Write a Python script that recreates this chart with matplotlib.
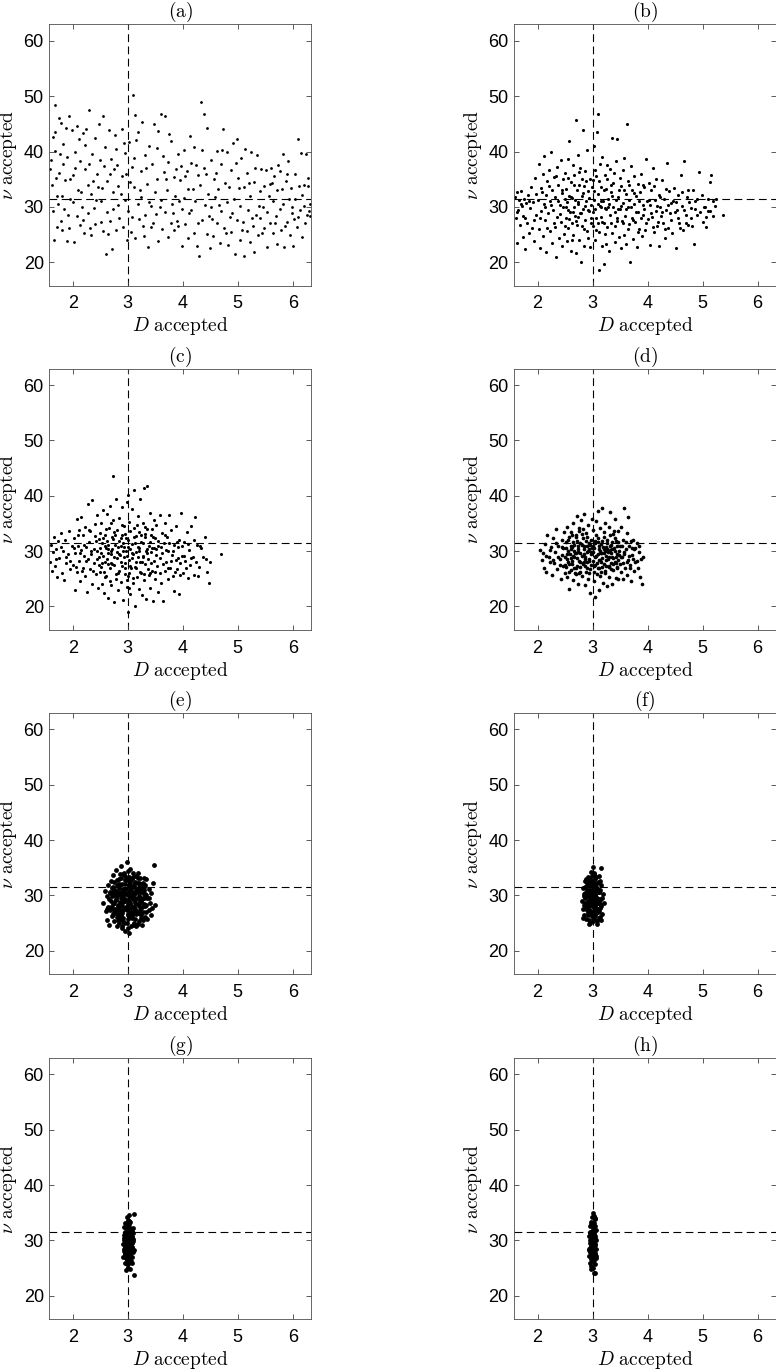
import numpy as np
import matplotlib.pyplot as plt

plt.rcParams['font.family'] = ['Liberation Sans', 'DejaVu Sans']
plt.rcParams['mathtext.fontset'] = 'cm'

# true parameter values (dashed lines)
true_D = 3.0
true_nu = 31.5

panel_tags = ['a', 'b', 'c', 'd', 'e', 'f', 'g', 'h']
x_ticks = [2, 3, 4, 5, 6]
y_ticks = [20, 30, 40, 50, 60]

# accepted (D, nu) samples
pts_a = [
    (1.59,36.8),(1.61,38.4),(1.64,29.3),(1.65,42.6),(1.66,24.1),(1.68,43.6),(1.68,48.4),(1.71,31.9),(1.72,26.3),
    (1.75,36.2),(1.76,46.0),(1.78,27.4),(1.79,45.1),(1.81,32.0),(1.82,41.3),(1.85,29.6),(1.86,34.8),(1.89,23.8),
    (1.90,39.0),(1.93,26.2),(1.94,46.5),(1.95,31.5),(1.98,43.9),
    (2.01,35.8),(2.03,23.6),(2.04,40.0),(2.07,28.4),(2.08,44.7),(2.09,33.1),(2.13,26.7),(2.14,38.2),(2.17,30.0),
    (2.18,43.3),(2.21,25.2),(2.22,36.9),(2.23,41.2),(2.27,28.9),(2.28,34.0),(2.30,47.5),(2.33,32.3),(2.34,25.0),
    (2.35,39.6),(2.39,29.8),(2.40,42.5),(2.41,26.9),(2.45,36.0),(2.46,33.5),(2.47,44.9),
    (2.51,27.2),(2.52,31.0),(2.55,46.4),(2.56,25.6),(2.57,37.4),(2.61,21.5),(2.62,34.6),(2.63,29.1),(2.66,43.8),
    (2.67,27.5),(2.70,38.7),(2.72,22.4),(2.73,32.7),(2.75,36.9),(2.78,25.8),(2.79,40.5),(2.82,30.4),(2.83,33.8),
    (2.85,28.0),(2.89,44.1),(2.90,35.5),(2.91,26.4),(2.95,39.8),(2.96,31.3),(2.97,35.9),
    (3.01,29.2),(3.02,41.7),(3.06,25.4),(3.07,37.2),(3.09,50.3),(3.12,33.6),(3.13,46.6),(3.14,24.4),(3.18,30.6),
    (3.19,43.5),(3.20,27.8),(3.24,36.4),(3.25,31.8),(3.26,45.4),(3.30,24.8),(3.31,39.3),(3.32,28.5),(3.36,34.2),
    (3.37,22.8),(3.38,41.0),(3.42,30.1),(3.43,26.3),(3.44,37.7),(3.48,45.0),(3.49,32.6),
    (3.51,28.7),(3.54,40.6),(3.55,23.9),(3.56,43.7),(3.60,31.2),(3.61,46.8),(3.62,26.0),(3.66,36.3),(3.67,29.0),
    (3.68,46.5),(3.72,33.0),(3.73,24.6),(3.74,38.1),(3.78,27.1),(3.79,41.9),(3.80,30.5),(3.84,25.9),(3.85,35.4),
    (3.86,32.0),(3.90,27.4),(3.91,39.6),(3.92,26.6),(3.96,34.9),(3.97,37.3),(3.98,29.7),
    (4.02,40.2),(4.03,31.6),(4.04,26.9),(4.08,36.5),(4.09,33.2),(4.10,24.3),(4.14,42.8),(4.15,29.4),(4.16,38.0),
    (4.20,25.3),(4.21,40.9),(4.22,31.1),(4.26,23.0),(4.27,35.7),(4.29,21.2),(4.32,33.9),(4.34,49.0),(4.35,27.7),
    (4.38,37.0),(4.39,46.7),(4.40,30.3),(4.44,25.1),(4.45,44.3),(4.46,32.4),(4.49,22.6),
    (4.51,38.5),(4.52,29.9),(4.56,24.7),(4.57,35.0),(4.58,31.7),(4.62,40.1),(4.63,27.0),(4.64,33.3),(4.68,23.4),
    (4.69,37.8),(4.70,29.3),(4.74,44.0),(4.75,26.1),(4.76,34.4),(4.80,30.8),(4.81,39.9),(4.82,23.1),(4.86,28.2),
    (4.87,36.7),(4.88,25.5),(4.92,41.6),(4.93,31.4),(4.95,21.4),(4.98,42.2),(4.99,27.6),
    (5.01,35.3),(5.04,24.0),(5.05,30.2),(5.06,38.9),(5.10,27.3),(5.11,21.1),(5.12,33.5),(5.16,25.7),(5.17,36.1),
    (5.18,29.5),(5.22,23.7),(5.23,31.9),(5.24,40.0),(5.28,26.5),(5.29,21.8),(5.30,34.5),(5.34,28.6),(5.35,39.4),
    (5.36,24.9),(5.40,32.8),(5.41,27.9),(5.42,36.8),(5.46,30.0),(5.47,26.2),(5.48,33.7),
    (5.52,36.6),(5.53,29.1),(5.54,22.7),(5.58,34.1),(5.59,27.0),(5.60,37.1),(5.64,31.0),(5.65,25.2),(5.66,35.6),
    (5.70,28.3),(5.71,23.2),(5.72,33.0),(5.76,29.6),(5.77,36.4),(5.78,25.9),(5.82,39.5),(5.83,30.6),(5.84,22.7),
    (5.88,34.7),(5.89,27.2),(5.90,36.0),(5.94,31.5),(5.95,25.0),(5.96,33.4),(5.99,28.9),
    (6.01,23.0),(6.03,27.8),(6.05,31.4),(6.08,26.3),(6.09,42.2),(6.11,33.8),(6.14,29.4),(6.15,39.8),(6.17,24.6),
    (6.20,34.0),(6.21,30.2),(6.24,39.5),(6.26,28.5),(6.27,35.3),(6.30,29.2),(6.31,30.6),
    (1.62,33.9),(1.67,40.1),(1.70,35.3),(1.74,30.6),(1.77,39.6),(1.80,25.9),(1.83,37.7),(1.87,44.2),(1.91,28.5),
    (1.96,35.0),(2.00,30.9),(2.05,37.1),(2.11,42.3),(2.15,32.7),(2.19,27.6),(2.25,44.0),(2.29,37.8),(2.32,26.1),
    (2.37,34.6),(2.43,31.2),(2.49,38.4),(2.53,33.4),(2.59,40.9),(2.64,25.1),(2.68,35.9),(2.74,29.7),(2.77,43.0),
    (2.81,37.6),(2.87,32.4),(2.93,41.5),(2.99,24.0),(3.04,34.5),(3.08,28.1),(3.11,38.8),(3.16,42.0),(3.22,33.0),
    (3.28,26.6),(3.34,37.0),(3.39,30.9),(3.46,27.0),(3.53,35.1),(3.58,30.0),(3.64,39.2),(3.70,35.0),(3.76,43.1),
    (3.82,28.9),(3.88,36.8),(3.94,31.0),(3.99,23.0),(4.05,35.5),(4.11,28.8),(4.18,33.3),(4.24,37.6),(4.28,27.0),
    (4.36,40.3),(4.42,35.9),(4.47,28.4),(4.54,27.8),(4.60,36.2),(4.66,30.3),(4.72,40.3),(4.78,25.2),(4.84,33.6),
    (4.90,28.8),(4.96,38.0),(5.03,33.4),(5.08,25.9),(5.14,40.5),(5.20,34.3),(5.26,28.0),(5.32,37.0),(5.38,30.2),
    (5.44,25.3),(5.56,31.9),(5.62,34.3),(5.68,27.0),(5.74,37.6),(5.80,33.2),(5.86,26.5),(5.92,38.3),(5.98,30.0),
    (6.04,35.9),(6.10,28.1),(6.16,32.2),(6.22,27.0),(6.28,33.8),(6.32,28.3),
]

pts_b = [
    (1.59,31.8),(1.60,27.9),(1.62,32.6),(1.63,23.5),(1.65,29.4),(1.66,31.2),(1.68,26.7),(1.70,32.9),(1.71,30.1),
    (1.73,24.6),(1.74,28.3),(1.76,31.5),(1.78,22.4),(1.79,30.7),(1.81,27.0),(1.83,32.2),(1.85,25.3),(1.86,29.8),
    (1.88,33.6),(1.90,26.1),(1.92,30.9),(1.94,23.9),(1.96,35.2),(1.98,28.6),
    (2.01,31.3),(2.02,26.0),(2.03,37.8),(2.05,22.5),(2.06,33.4),(2.07,29.2),(2.09,35.9),(2.10,24.8),(2.11,30.5),
    (2.12,39.1),(2.14,27.6),(2.15,32.1),(2.16,21.8),(2.18,34.7),(2.19,28.8),(2.20,36.6),(2.22,25.7),(2.23,31.0),
    (2.24,39.9),(2.26,23.4),(2.27,33.0),(2.28,29.5),(2.30,35.4),(2.31,26.4),(2.32,31.7),(2.34,21.0),(2.35,37.2),
    (2.36,28.1),(2.38,33.9),(2.39,24.3),(2.40,30.3),(2.42,38.5),(2.43,27.3),(2.44,32.5),(2.45,22.9),(2.46,35.0),
    (2.47,29.9),(2.48,25.1),(2.49,31.4),(2.50,36.2),
    (2.51,28.0),(2.52,33.2),(2.53,23.8),(2.54,30.8),(2.55,38.7),(2.56,26.2),(2.57,32.0),(2.58,41.9),(2.59,29.0),
    (2.60,22.0),(2.61,34.5),(2.62,27.1),(2.63,31.6),(2.64,37.5),(2.65,24.9),(2.66,30.0),(2.67,35.7),(2.68,28.4),
    (2.69,45.7),(2.70,21.6),(2.71,33.1),(2.72,26.8),(2.73,39.4),(2.74,30.6),(2.75,24.1),(2.76,34.0),(2.77,28.9),
    (2.78,37.0),(2.79,20.1),(2.80,31.9),(2.81,26.5),(2.82,43.8),(2.83,29.6),(2.84,33.7),(2.85,23.0),(2.86,36.4),
    (2.87,27.7),(2.88,31.1),(2.89,40.3),(2.90,25.6),(2.92,32.8),(2.93,29.3),(2.95,35.1),(2.96,22.7),(2.98,30.4),
    (3.00,26.6),(3.01,34.9),(3.02,31.2),(3.03,41.0),(3.04,24.0),(3.05,29.7),(3.06,35.5),(3.07,27.9),(3.08,43.5),
    (3.09,32.3),(3.10,46.8),(3.11,25.4),(3.12,18.6),(3.13,30.2),(3.14,37.7),(3.15,28.2),(3.16,33.6),(3.17,22.9),
    (3.18,39.0),(3.19,31.0),(3.20,19.7),(3.21,27.0),(3.22,35.8),(3.23,29.8),(3.24,23.3),(3.25,33.3),(3.26,37.6),
    (3.27,26.3),(3.28,31.5),(3.30,22.1),(3.31,36.9),(3.32,28.6),(3.33,32.6),(3.35,42.4),(3.36,25.2),(3.37,30.0),
    (3.38,34.3),(3.40,23.7),(3.41,29.1),(3.43,38.3),(3.44,27.4),(3.45,42.3),(3.46,31.8),(3.48,24.5),(3.49,35.3),
    (3.50,29.6),(3.51,22.6),(3.52,33.8),(3.53,27.5),(3.55,36.7),(3.56,30.7),(3.57,25.0),(3.58,38.9),(3.59,28.3),
    (3.60,32.4),(3.61,23.2),(3.63,45.0),(3.64,29.9),(3.65,34.6),(3.66,26.9),(3.67,31.3),(3.68,20.1),(3.69,37.4),
    (3.71,28.0),(3.72,33.0),(3.73,24.2),(3.75,30.6),(3.76,35.6),(3.77,27.2),(3.79,31.9),(3.80,22.8),(3.82,34.1),
    (3.83,29.0),(3.85,26.0),(3.86,32.7),(3.88,36.0),(3.89,24.7),(3.91,30.3),(3.92,28.5),(3.94,33.5),(3.96,25.8),
    (3.97,38.7),(3.99,31.1),
    (4.01,27.8),(4.02,34.3),(4.04,30.4),(4.05,23.1),(4.07,33.0),(4.08,28.1),(4.10,37.0),(4.11,25.5),(4.13,31.2),
    (4.15,29.2),(4.16,35.1),(4.18,26.6),(4.20,32.2),(4.21,22.9),(4.23,30.0),(4.25,28.4),(4.26,34.8),(4.28,27.1),
    (4.30,31.5),(4.32,24.4),(4.34,29.5),(4.35,37.9),(4.37,26.2),(4.39,32.9),(4.41,28.8),(4.43,30.7),(4.45,25.3),
    (4.48,33.4),
    (4.51,22.5),(4.53,29.4),(4.55,32.1),(4.57,27.0),(4.60,35.8),(4.62,30.1),(4.64,25.9),(4.66,38.2),(4.69,28.6),
    (4.71,31.7),(4.73,26.7),(4.76,30.9),(4.79,28.0),(4.82,33.0),(4.84,23.3),(4.87,29.7),(4.90,31.4),(4.93,36.3),
    (5.01,27.3),(5.04,30.0),(5.07,26.3),(5.10,29.3),(5.13,34.5),(5.16,35.8),(5.19,28.4),(5.24,31.5),(5.37,28.6),
    (1.62,29.0),(1.69,30.6),(1.77,28.0),(1.84,31.0),(1.93,27.7),(1.97,32.3),
    (2.04,28.0),(2.08,32.6),(2.13,29.9),(2.17,26.2),(2.21,33.7),(2.25,30.4),(2.29,27.0),(2.33,35.6),(2.37,31.0),
    (2.41,28.7),(2.45,33.0),(2.49,26.6),(2.52,30.0),(2.55,35.3),(2.58,27.8),(2.61,31.8),(2.64,29.1),(2.67,33.9),
    (2.70,27.4),(2.73,30.9),(2.76,36.3),(2.79,28.8),(2.82,32.5),(2.85,26.0),(2.88,34.6),(2.91,29.4),(2.94,31.6),
    (2.97,27.1),(2.99,33.5),(2.56,29.4),(2.62,24.0),(2.68,31.3),(2.74,28.1),(2.80,35.0),(2.86,30.1),(2.92,24.4),
    (2.98,28.0),(3.01,29.0),(3.03,32.9),(3.06,25.9),(3.09,30.5),(3.12,34.6),(3.15,31.0),(3.18,27.2),(3.21,33.0),
    (3.24,29.6),(3.27,35.1),(3.30,30.6),(3.33,27.0),(3.36,32.0),(3.39,36.2),(3.42,31.3),(3.45,28.0),(3.48,33.1),
    (3.04,36.7),(3.10,27.0),(3.16,30.0),(3.22,25.1),(3.28,29.9),(3.34,33.9),(3.40,26.6),(3.46,29.7),
    (3.52,30.2),(3.55,27.1),(3.58,33.1),(3.61,29.7),(3.64,26.0),(3.67,34.0),(3.70,30.0),(3.73,27.7),(3.76,32.5),
    (3.79,29.0),(3.82,25.4),(3.85,31.0),(3.88,28.0),(3.91,33.9),(3.94,29.6),(3.97,27.0),
    (4.02,31.3),(4.06,28.9),(4.09,26.3),(4.12,33.7),(4.17,30.1),(4.19,27.3),(4.22,31.8),(4.27,29.1),(4.31,26.0),
    (4.33,33.3),(4.38,30.4),(4.42,27.6),(4.46,31.1),(4.49,29.0),(4.52,30.9),(4.56,28.0),(4.59,26.1),(4.63,32.6),
    (4.67,29.5),(4.70,27.0),(4.74,33.0),(4.78,29.8),(4.81,26.6),(4.86,31.0),(4.89,28.5),(4.95,29.0),(4.98,32.2),
    (5.02,29.9),(5.06,28.1),(5.09,31.5),(5.14,29.2),(5.18,31.0),(5.22,30.1),
]

pts_c = [
    (1.59,28.1),(1.61,31.2),(1.63,26.5),(1.64,29.8),(1.66,32.6),(1.68,27.4),(1.70,30.4),(1.72,25.3),(1.74,31.9),
    (1.76,28.8),(1.78,33.3),(1.80,26.1),(1.82,30.0),(1.84,24.8),(1.86,32.0),(1.88,27.9),(1.91,29.4),(1.93,33.6),
    (1.95,26.8),(1.98,30.9),
    (2.01,27.5),(2.02,32.4),(2.04,23.0),(2.05,29.6),(2.07,35.8),(2.08,26.3),(2.09,31.0),(2.11,28.2),(2.12,33.9),
    (2.14,24.6),(2.15,30.2),(2.16,36.2),(2.18,27.0),(2.19,32.9),(2.20,29.1),(2.22,25.5),(2.23,34.3),(2.24,30.7),
    (2.26,22.6),(2.27,28.5),(2.28,38.6),(2.30,31.6),(2.31,26.7),(2.32,33.7),(2.34,29.4),(2.35,24.0),(2.36,39.3),
    (2.38,30.3),(2.39,27.8),(2.40,34.9),(2.42,25.8),(2.43,31.8),(2.44,28.6),(2.45,36.5),(2.46,23.4),(2.47,32.2),
    (2.48,29.0),(2.49,26.2),(2.50,33.3),(2.50,30.6),
    (2.51,27.2),(2.52,35.1),(2.53,24.1),(2.54,31.4),(2.55,29.2),(2.56,37.4),(2.57,22.4),(2.58,33.0),(2.59,28.0),
    (2.60,30.5),(2.61,25.6),(2.62,36.8),(2.63,31.9),(2.64,21.6),(2.65,29.7),(2.66,34.2),(2.67,26.9),(2.68,38.2),
    (2.69,30.1),(2.70,23.8),(2.71,32.6),(2.72,27.6),(2.73,43.6),(2.74,35.6),(2.75,20.8),(2.76,29.0),(2.77,31.2),
    (2.78,25.0),(2.79,39.4),(2.80,28.7),(2.81,33.8),(2.82,22.9),(2.83,30.8),(2.84,26.4),(2.85,36.0),(2.86,29.3),
    (2.87,32.3),(2.88,24.5),(2.89,37.9),(2.90,27.3),(2.91,31.5),(2.92,21.2),(2.93,34.6),(2.94,28.9),(2.95,25.9),
    (2.96,33.1),(2.97,30.0),(2.98,38.8),(2.99,23.6),(2.96,27.9),(2.88,31.0),(2.76,33.4),(2.64,27.7),(2.58,30.9),
    (2.70,29.4),
    (3.00,19.0),(3.00,25.6),(3.01,32.0),(3.01,40.2),(3.02,28.4),(3.03,35.3),(3.04,22.2),(3.05,30.4),(3.06,26.9),
    (3.07,37.6),(3.08,31.3),(3.09,24.3),(3.10,29.5),(3.11,34.1),(3.12,41.0),(3.13,27.1),(3.14,20.0),(3.15,32.8),
    (3.16,29.9),(3.17,25.3),(3.18,36.3),(3.19,30.8),(3.20,23.1),(3.21,33.5),(3.22,28.0),(3.23,39.4),(3.24,26.1),
    (3.25,31.7),(3.26,22.0),(3.27,35.0),(3.28,29.2),(3.29,24.8),(3.30,41.4),(3.31,32.5),(3.32,27.6),(3.33,30.1),
    (3.34,21.4),(3.35,41.8),(3.36,34.0),(3.37,28.6),(3.38,25.7),(3.39,31.0),(3.40,36.9),(3.41,23.3),(3.42,29.8),
    (3.43,33.0),(3.44,26.5),(3.45,30.6),(3.46,21.0),(3.47,35.6),(3.48,28.3),(3.49,32.3),(3.05,27.3),(3.18,28.9),
    (3.28,31.4),
    (3.50,25.0),(3.51,30.3),(3.52,34.8),(3.54,27.4),(3.55,22.6),(3.56,31.9),(3.58,36.6),(3.59,28.8),(3.60,24.3),
    (3.62,33.2),(3.63,29.6),(3.64,21.0),(3.66,31.5),(3.67,26.4),(3.68,35.1),(3.70,28.1),(3.71,32.6),(3.73,24.9),
    (3.74,30.0),(3.76,36.6),(3.77,27.0),(3.79,33.9),(3.80,29.3),(3.82,25.6),(3.84,31.2),(3.85,22.8),(3.87,28.4),
    (3.88,34.5),(3.90,26.8),(3.91,30.7),(3.93,22.2),(3.94,32.1),(3.96,27.9),(3.97,36.9),(3.99,29.1),
    (4.01,26.0),(4.03,31.6),(4.05,28.3),(4.07,33.4),(4.09,25.1),(4.12,30.2),(4.14,27.5),(4.16,34.6),(4.18,29.0),
    (4.21,25.7),(4.23,36.2),(4.26,31.1),(4.30,27.2),(4.34,30.6),(4.40,32.6),(4.45,26.3),(4.48,24.3),(4.50,28.1),
    (4.70,29.5),
    (1.70,28.5),(1.79,30.8),(1.87,29.0),(1.96,28.2),
    (2.03,30.5),(2.06,27.2),(2.10,32.9),(2.13,29.6),(2.17,26.5),(2.21,31.2),(2.25,28.2),(2.29,33.8),(2.33,30.0),
    (2.37,26.4),(2.41,32.7),(2.44,30.1),(2.48,27.5),(2.52,29.6),(2.55,32.3),(2.57,26.3),(2.60,34.0),(2.62,28.6),
    (2.65,31.1),(2.67,24.6),(2.70,35.0),(2.72,30.3),(2.75,27.5),(2.77,33.0),(2.80,29.9),(2.82,26.1),(2.85,31.9),
    (2.87,28.0),(2.90,34.8),(2.92,30.0),(2.95,27.0),(2.97,32.4),(2.99,29.1),(2.54,27.9),(2.59,25.4),(2.64,30.3),
    (2.69,27.9),(2.74,32.2),(2.79,25.9),(2.84,29.5),(2.89,33.0),(2.94,30.8),(2.98,24.8),
    (3.01,30.7),(3.03,26.0),(3.05,33.7),(3.08,28.8),(3.10,25.2),(3.13,31.5),(3.15,28.0),(3.17,34.7),(3.20,30.1),
    (3.22,26.2),(3.25,32.9),(3.27,29.0),(3.30,25.9),(3.32,33.1),(3.35,29.7),(3.37,26.8),(3.40,31.6),(3.42,27.8),
    (3.45,34.0),(3.47,30.5),(3.49,26.3),(3.02,23.4),(3.07,29.6),(3.12,32.6),(3.16,27.0),(3.21,30.6),(3.26,28.0),
    (3.31,34.4),(3.36,30.4),(3.41,26.0),(3.46,32.5),
    (3.52,29.3),(3.55,31.0),(3.58,26.0),(3.61,30.8),(3.64,27.6),(3.67,33.0),(3.70,30.2),(3.73,27.0),(3.76,31.4),
    (3.79,28.3),(3.82,30.0),(3.86,26.3),(3.89,31.7),(3.92,28.7),(3.95,25.7),(3.98,31.0),
    (4.02,29.1),(4.06,26.9),(4.10,31.3),(4.15,28.8),(4.20,32.0),(4.25,28.1),(4.28,25.6),(4.32,31.0),(4.37,29.0),
    (4.42,28.5),
]

pts_d = [
    (2.05,30.2),(2.08,28.4),(2.10,29.6),(2.12,27.0),(2.14,31.3),(2.16,26.3),(2.18,33.0),(2.20,29.0),(2.22,28.1),
    (2.24,30.8),(2.26,25.7),(2.28,32.4),(2.30,27.8),(2.32,29.9),(2.34,34.0),(2.36,26.7),(2.38,31.0),(2.40,28.6),
    (2.42,24.9),(2.44,32.1),(2.45,29.3),(2.46,27.3),(2.47,30.5),(2.48,33.5),(2.49,26.0),
    (2.50,29.0),(2.51,31.7),(2.52,27.2),(2.53,34.4),(2.54,25.3),(2.55,30.1),(2.56,28.0),(2.57,32.6),(2.58,23.1),
    (2.59,29.5),(2.60,26.6),(2.61,33.4),(2.62,30.7),(2.63,27.7),(2.64,35.1),(2.65,24.8),(2.66,31.2),(2.67,28.9),
    (2.68,26.0),(2.69,32.9),(2.70,29.7),(2.71,36.4),(2.72,27.4),(2.73,30.4),(2.74,24.1),(2.75,33.6),(2.76,28.3),
    (2.77,31.5),(2.78,26.3),(2.79,35.7),(2.80,29.2),(2.81,25.5),(2.82,32.3),(2.83,27.9),(2.84,30.9),(2.85,36.7),
    (2.86,23.9),(2.87,29.0),(2.88,33.2),(2.89,27.0),(2.90,31.0),(2.91,25.0),(2.92,34.7),(2.93,28.6),(2.94,30.3),
    (2.95,22.4),(2.96,26.8),(2.97,32.0),(2.98,29.4),(2.99,35.9),(2.60,28.8),(2.66,30.0),(2.72,31.9),(2.78,27.1),
    (2.84,28.0),(2.90,29.8),(2.94,26.1),(2.70,26.9),(2.82,34.0),(2.88,31.8),
    (3.00,28.2),(3.01,33.8),(3.02,24.6),(3.03,30.6),(3.04,21.7),(3.05,27.5),(3.06,35.4),(3.07,29.1),(3.08,25.8),
    (3.09,31.7),(3.10,37.2),(3.11,28.4),(3.12,22.9),(3.13,30.0),(3.14,34.1),(3.15,26.3),(3.16,31.3),(3.17,37.8),
    (3.18,28.8),(3.19,24.3),(3.20,32.5),(3.21,29.6),(3.22,26.0),(3.23,35.0),(3.24,30.8),(3.25,27.3),(3.26,23.7),
    (3.27,32.0),(3.28,28.6),(3.29,34.4),(3.30,25.4),(3.31,30.2),(3.32,37.1),(3.33,27.8),(3.34,31.2),(3.35,24.0),
    (3.36,29.0),(3.37,33.1),(3.38,26.6),(3.39,30.5),(3.40,28.0),(3.41,35.9),(3.42,25.1),(3.43,31.8),(3.44,27.1),
    (3.45,29.5),(3.46,33.6),(3.47,24.9),(3.48,30.0),(3.49,27.7),(3.05,31.4),(3.10,29.5),(3.15,28.1),(3.20,30.3),
    (3.25,29.2),(3.30,27.4),(3.35,31.6),(3.40,32.3),(3.45,26.9),(3.12,26.9),
    (3.50,31.0),(3.51,26.2),(3.52,34.4),(3.53,28.9),(3.55,25.0),(3.56,32.1),(3.57,29.8),(3.58,37.8),(3.59,27.0),
    (3.60,30.4),(3.62,33.2),(3.63,25.7),(3.64,28.4),(3.65,36.1),(3.66,30.9),(3.68,27.5),(3.69,31.9),(3.70,24.6),
    (3.72,29.3),(3.73,32.0),(3.75,26.5),(3.76,30.3),(3.78,28.0),(3.80,31.4),(3.82,26.9),(3.84,29.8),(3.86,25.3),
    (3.88,28.5),(3.90,24.1),(3.91,29.0),
    (2.15,29.1),(2.22,30.2),(2.28,28.4),(2.33,31.4),(2.37,29.0),(2.41,27.5),(2.44,30.8),
    (2.50,27.5),(2.52,30.6),(2.54,28.6),(2.56,32.0),(2.58,26.3),(2.60,30.3),(2.62,28.2),(2.64,31.6),(2.66,27.0),
    (2.68,29.6),(2.70,32.6),(2.72,28.8),(2.74,30.9),(2.76,26.0),(2.78,29.7),(2.80,33.1),(2.82,27.7),(2.84,30.3),
    (2.86,28.6),(2.88,26.3),(2.90,32.6),(2.92,30.0),(2.94,28.3),(2.96,31.2),(2.98,27.5),
    (2.53,29.4),(2.57,27.6),(2.61,31.0),(2.65,29.2),(2.69,25.9),(2.73,29.9),(2.77,28.0),(2.81,31.1),(2.85,29.5),
    (2.89,28.1),(2.93,31.5),(2.97,29.8),(2.63,33.0),(2.75,34.2),(2.87,27.4),(2.99,30.5),
    (3.00,29.9),(3.02,27.3),(3.04,31.9),(3.06,29.2),(3.08,27.8),(3.10,32.4),(3.12,30.4),(3.14,28.4),(3.16,29.7),
    (3.18,31.8),(3.20,27.6),(3.22,30.1),(3.24,28.4),(3.26,31.5),(3.28,29.8),(3.30,28.9),(3.32,30.9),(3.34,26.7),
    (3.36,30.4),(3.38,28.8),(3.40,30.0),(3.42,27.9),(3.44,31.0),(3.46,28.4),(3.48,29.3),
    (3.01,30.9),(3.03,26.2),(3.05,28.9),(3.07,33.0),(3.09,27.0),(3.11,30.9),(3.13,25.6),(3.15,29.6),(3.17,27.2),
    (3.19,30.7),(3.21,33.4),(3.23,26.4),(3.27,30.4),(3.29,27.1),(3.31,32.9),(3.33,29.6),(3.37,27.6),(3.39,33.7),
    (3.43,29.0),(3.47,31.6),
    (3.52,28.9),(3.54,30.9),(3.56,27.9),(3.58,29.5),(3.61,31.6),(3.63,28.1),(3.66,29.1),(3.68,26.9),(3.71,30.6),
    (3.74,28.6),(3.77,30.5),(3.81,28.3),(3.85,30.9),
]

pts_e = [
    (2.56,28.6),(2.58,30.8),(2.60,27.2),(2.62,29.9),(2.63,25.5),(2.64,31.9),(2.65,28.0),(2.66,24.7),(2.67,30.5),
    (2.68,27.4),(2.69,32.6),(2.70,29.0),(2.71,26.2),(2.72,31.3),(2.73,28.5),(2.74,33.7),(2.75,25.4),(2.76,30.1),
    (2.77,27.6),(2.78,34.6),(2.79,29.4),(2.80,24.5),(2.81,31.8),(2.82,28.2),(2.83,26.4),(2.84,33.0),(2.85,30.3),
    (2.86,27.1),(2.87,35.3),(2.88,29.6),(2.89,24.1),(2.90,32.0),(2.91,28.8),(2.92,26.0),(2.93,30.9),(2.94,34.1),
    (2.95,27.8),(2.96,23.6),(2.97,31.2),(2.98,29.2),(2.99,36.0),(3.00,25.7),(3.00,32.9),(3.01,28.4),(3.02,30.6),
    (3.03,23.3),(3.04,27.0),(3.05,34.8),(3.06,29.8),(3.07,26.6),(3.08,31.5),(3.09,28.0),(3.10,33.4),(3.11,25.0),
    (3.12,30.2),(3.13,27.5),(3.14,32.5),(3.15,24.4),(3.16,29.4),(3.17,31.0),(3.18,26.8),(3.19,33.1),(3.20,28.6),
    (3.21,25.3),(3.22,30.7),(3.23,27.9),(3.24,32.0),(3.25,29.0),(3.26,24.6),(3.27,31.4),(3.28,27.0),(3.29,33.2),
    (3.30,29.5),(3.31,26.1),(3.32,30.2),(3.33,28.3),(3.34,32.9),(3.35,25.8),(3.36,29.6),(3.38,27.3),(3.39,31.1),
    (3.40,28.6),(3.42,26.4),(3.43,30.5),(3.45,27.8),(3.46,32.2),(3.48,35.5),(3.49,28.2),
    (2.78,29.1),(2.82,30.7),(2.86,28.9),(2.90,26.8),(2.94,29.5),(2.98,27.3),(3.02,29.0),(3.06,31.4),(3.10,29.3),
    (3.14,28.7),(3.18,30.6),(3.22,29.6),(3.26,27.9),(3.30,31.0),(2.80,27.0),(2.84,31.3),(2.88,33.2),(2.92,31.1),
    (2.96,29.0),(3.00,30.1),(3.04,28.5),(3.08,26.3),(3.12,32.0),(3.16,27.2),(3.20,31.6),(3.24,28.8),(3.28,30.4),
    (2.76,32.4),(2.72,29.9),(2.80,26.1),(2.84,27.6),(2.88,25.8),(2.92,33.9),(2.96,32.0),(3.00,27.8),(3.04,32.4),
    (3.08,25.9),(3.12,29.1),(3.16,33.5),(3.20,26.9),(3.24,30.9),(2.70,28.0),(2.74,26.7),(2.98,25.0),(3.02,26.1),
    (3.06,24.5),(2.94,25.1),(3.10,27.1),(3.18,24.8),(2.86,30.5),(3.14,30.4),(3.00,34.4),(2.90,29.9),(3.04,31.0),
    (2.82,25.6),(3.22,33.1),(3.28,25.6),(3.34,30.0),(2.68,30.6),(2.62,27.6),
    (2.71,27.8),(2.73,30.7),(2.75,28.7),(2.77,31.0),(2.79,26.8),(2.81,29.9),(2.83,28.0),(2.85,32.1),(2.87,26.3),
    (2.89,30.8),(2.91,27.4),(2.93,29.2),(2.95,32.8),(2.97,28.0),(2.99,30.3),(3.01,26.7),(3.03,31.8),(3.05,28.6),
    (3.07,30.0),(3.09,26.9),(3.11,31.7),(3.13,29.5),(3.15,26.6),(3.17,30.8),(3.19,28.2),(3.21,32.2),(3.23,29.2),
    (3.25,26.0),(3.27,29.6),(3.29,31.5),(3.31,28.1),(3.33,27.0),
    (2.74,31.6),(2.78,30.3),(2.82,27.3),(2.86,31.8),(2.90,28.1),(2.94,30.3),(2.98,32.8),(3.02,31.9),(3.06,27.8),
    (3.10,30.7),(3.14,25.7),(3.18,32.2),(3.22,27.3),(3.26,31.9),(3.30,28.4),
    (2.80,32.8),(2.84,25.1),(2.88,28.6),(2.92,25.3),(2.96,30.5),(3.00,26.4),(3.04,29.8),(3.08,32.9),(3.12,27.9),
    (3.16,31.2),(3.20,29.9),(3.24,26.5),(3.28,32.2),
    (2.86,33.9),(2.95,33.6),(3.02,33.3),(3.09,34.0),(3.18,34.0),(2.90,24.4),(3.00,24.2),(3.10,24.7),(2.76,27.0),
    (3.32,31.9),(2.66,29.4),(3.38,29.6),
]

pts_f = [
    (2.81,29.0),(2.82,31.3),(2.83,27.5),(2.84,30.2),(2.85,26.4),(2.86,32.7),(2.87,28.6),(2.88,25.8),(2.89,30.9),
    (2.90,28.0),(2.91,33.4),(2.92,26.9),(2.93,29.7),(2.94,24.9),(2.95,31.8),(2.96,28.3),(2.97,34.2),(2.98,27.2),
    (2.99,30.4),(3.00,25.3),(3.00,32.6),(3.01,29.1),(3.02,27.0),(3.03,33.8),(3.04,30.0),(3.05,26.2),(3.06,31.6),
    (3.07,28.4),(3.08,24.8),(3.09,30.7),(3.10,27.6),(3.11,32.4),(3.12,29.3),(3.13,26.1),(3.14,31.0),(3.15,28.1),
    (3.16,34.9),(3.17,29.6),(3.18,26.7),(3.19,30.3),(3.20,28.6),
    (2.84,28.2),(2.87,30.5),(2.90,31.9),(2.92,29.0),(2.94,27.4),(2.96,30.9),(2.98,32.5),(3.00,28.7),(3.02,30.8),
    (3.04,28.0),(3.06,29.8),(3.08,32.3),(3.10,29.4),(3.12,27.2),(3.14,29.2),(2.86,29.5),(2.89,27.3),(2.91,30.0),
    (2.93,32.2),(2.95,28.8),(2.97,26.5),(2.99,28.1),(3.01,31.2),(3.03,27.9),(3.05,30.3),(3.07,26.9),(3.09,28.6),
    (3.11,30.6),(3.13,28.5),(2.97,29.3),(3.01,25.9),(2.99,33.6),(3.03,29.6),(2.95,26.6),(3.05,32.9),(2.93,30.6),
    (3.07,31.0),(3.00,35.2),(2.88,33.0),(3.12,33.5),(2.96,25.0),(3.04,25.5),(3.15,25.6),(2.83,25.9),(2.91,28.5),
    (3.09,27.1),
    (2.85,29.9),(2.88,27.9),(2.90,30.6),(2.92,27.8),(2.94,31.0),(2.96,29.7),(2.98,30.1),(3.00,27.1),(3.02,32.0),
    (3.04,31.3),(3.06,27.6),(3.08,29.4),(3.10,31.2),(3.12,30.7),(3.14,27.7),(2.87,31.6),(2.91,26.5),(2.95,33.0),
    (2.99,26.4),(3.03,34.0),(3.07,33.4),(3.11,26.0),(3.16,31.8),(2.97,31.9),(3.01,29.9),(3.05,29.0),(2.89,32.4),
    (3.13,32.6),(2.93,25.5),(3.08,25.4),
]

pts_g = [
    (2.91,29.3),(2.92,27.0),(2.93,31.0),(2.94,28.4),(2.95,33.1),(2.95,26.0),(2.96,30.1),(2.97,24.6),(2.97,32.3),
    (2.98,28.8),(2.98,34.3),(2.99,27.4),(2.99,30.8),(3.00,26.1),(3.00,29.6),(3.00,33.7),(3.01,25.1),(3.01,28.2),
    (3.01,31.6),(3.02,27.2),(3.02,30.5),(3.02,34.6),(3.03,26.6),(3.03,29.0),(3.03,32.5),(3.04,28.0),(3.04,31.0),
    (3.04,24.9),(3.05,27.6),(3.05,30.2),(3.05,33.4),(3.06,29.4),(3.06,26.3),(3.07,31.7),(3.07,28.6),(3.08,30.7),
    (3.08,27.0),(3.09,29.9),(3.10,32.3),(3.11,28.2),(3.12,34.8),(3.12,23.7),(2.93,28.1),(2.94,30.4),(2.95,29.4),
    (2.96,27.7),(2.97,29.9),(2.98,26.5),(2.99,32.4),(3.00,28.0),(3.00,31.2),(3.01,29.8),(3.02,28.6),(3.03,30.9),
    (3.04,29.3),(3.05,28.7),(3.06,32.1),(3.07,29.5),(3.09,28.0),(3.10,30.2),(2.96,31.6),(2.99,25.8),(3.02,25.9),
    (3.06,30.9),(2.94,32.4),(3.08,26.0),(2.98,30.7),(3.01,27.0),(3.03,27.8),
    (2.95,31.4),(2.96,28.9),(2.97,26.9),(2.98,32.9),(2.99,29.3),(3.00,27.2),(3.00,32.6),(3.01,30.4),(3.02,29.3),
    (3.02,32.9),(3.03,28.4),(3.04,27.1),(3.05,31.6),(3.06,27.9),(3.07,30.6),(3.08,28.9),(2.97,30.6),(3.01,33.3),
    (3.03,33.6),(2.95,27.5),(3.05,26.3),(3.09,31.4),(2.93,30.0),(3.00,25.0),
]

pts_h = [
    (2.93,28.3),(2.94,30.8),(2.94,27.1),(2.95,29.6),(2.95,32.6),(2.96,26.0),(2.96,30.1),(2.97,28.2),(2.97,33.4),
    (2.98,25.4),(2.98,29.0),(2.98,31.6),(2.99,27.5),(2.99,30.5),(2.99,34.3),(3.00,26.3),(3.00,29.3),(3.00,32.0),
    (3.00,35.0),(3.01,25.0),(3.01,28.0),(3.01,30.9),(3.02,27.0),(3.02,29.8),(3.02,33.2),(3.03,26.5),(3.03,28.9),
    (3.03,31.3),(3.04,27.7),(3.04,30.4),(3.04,34.0),(3.05,29.1),(3.05,25.8),(3.06,28.4),(3.06,31.9),(3.07,30.0),
    (3.07,27.2),(3.02,24.2),(2.97,24.8),(2.96,28.7),(2.98,27.6),(3.00,28.0),(3.01,29.6),(3.02,31.0),(3.03,29.9),
    (2.99,28.7),(2.97,31.0),(3.05,32.6),(3.04,33.8),(3.04,24.1),(2.93,28.4),(3.06,26.8),
    (2.95,28.0),(2.96,31.3),(2.97,29.7),(2.98,30.3),(2.99,26.4),(2.99,32.9),(3.00,30.6),(3.00,27.2),(3.01,32.6),
    (3.01,26.9),(3.02,28.5),(3.03,27.6),(3.03,32.6),(3.04,29.3),(3.05,30.8),(3.05,27.6),(2.97,26.6),(2.98,33.0),
    (3.02,34.5),(2.95,31.5),
]

panels = [pts_a, pts_b, pts_c, pts_d, pts_e, pts_f, pts_g, pts_h]
marker_sizes = [4, 5, 5, 7, 12, 12, 12, 12]

fig = plt.figure(figsize=(7.76, 13.69), dpi=100)
lefts = [0.0636, 0.6627]
bottoms = [0.7913, 0.5398, 0.2883, 0.0363]
w, h = 0.337, 0.191

for i, pts in enumerate(panels):
    ax = fig.add_axes([lefts[i % 2], bottoms[i // 2], w, h])
    p = np.array(pts)
    ax.axvline(true_D, color='k', lw=0.8, dashes=(7, 4), zorder=1)
    ax.axhline(true_nu, color='k', lw=0.8, dashes=(7, 4), zorder=1)
    ax.scatter(p[:, 0], p[:, 1], s=marker_sizes[i], c='k', marker='o', linewidths=0, zorder=2)
    ax.set_xlim(1.576, 6.33)
    ax.set_ylim(15.75, 63.0)
    ax.set_xticks(x_ticks)
    ax.set_yticks(y_ticks)
    ax.tick_params(direction='in', top=True, right=True, length=3.5, width=0.6,
                   color='0.25', labelsize=13)
    ax.tick_params(axis='x', pad=7)
    ax.tick_params(axis='y', pad=4)
    for sp in ax.spines.values():
        sp.set_color('0.3')
        sp.set_linewidth(0.6)
    ax.set_title(r'$\mathrm{(' + panel_tags[i] + r')}$', fontsize=14, pad=5)
    ax.set_xlabel(r'$D\ \mathrm{accepted}$', fontsize=14, labelpad=2)
    ax.set_ylabel(r'$\nu\ \mathrm{accepted}$', fontsize=14, labelpad=3)

fig.savefig('out.png', dpi=100)
